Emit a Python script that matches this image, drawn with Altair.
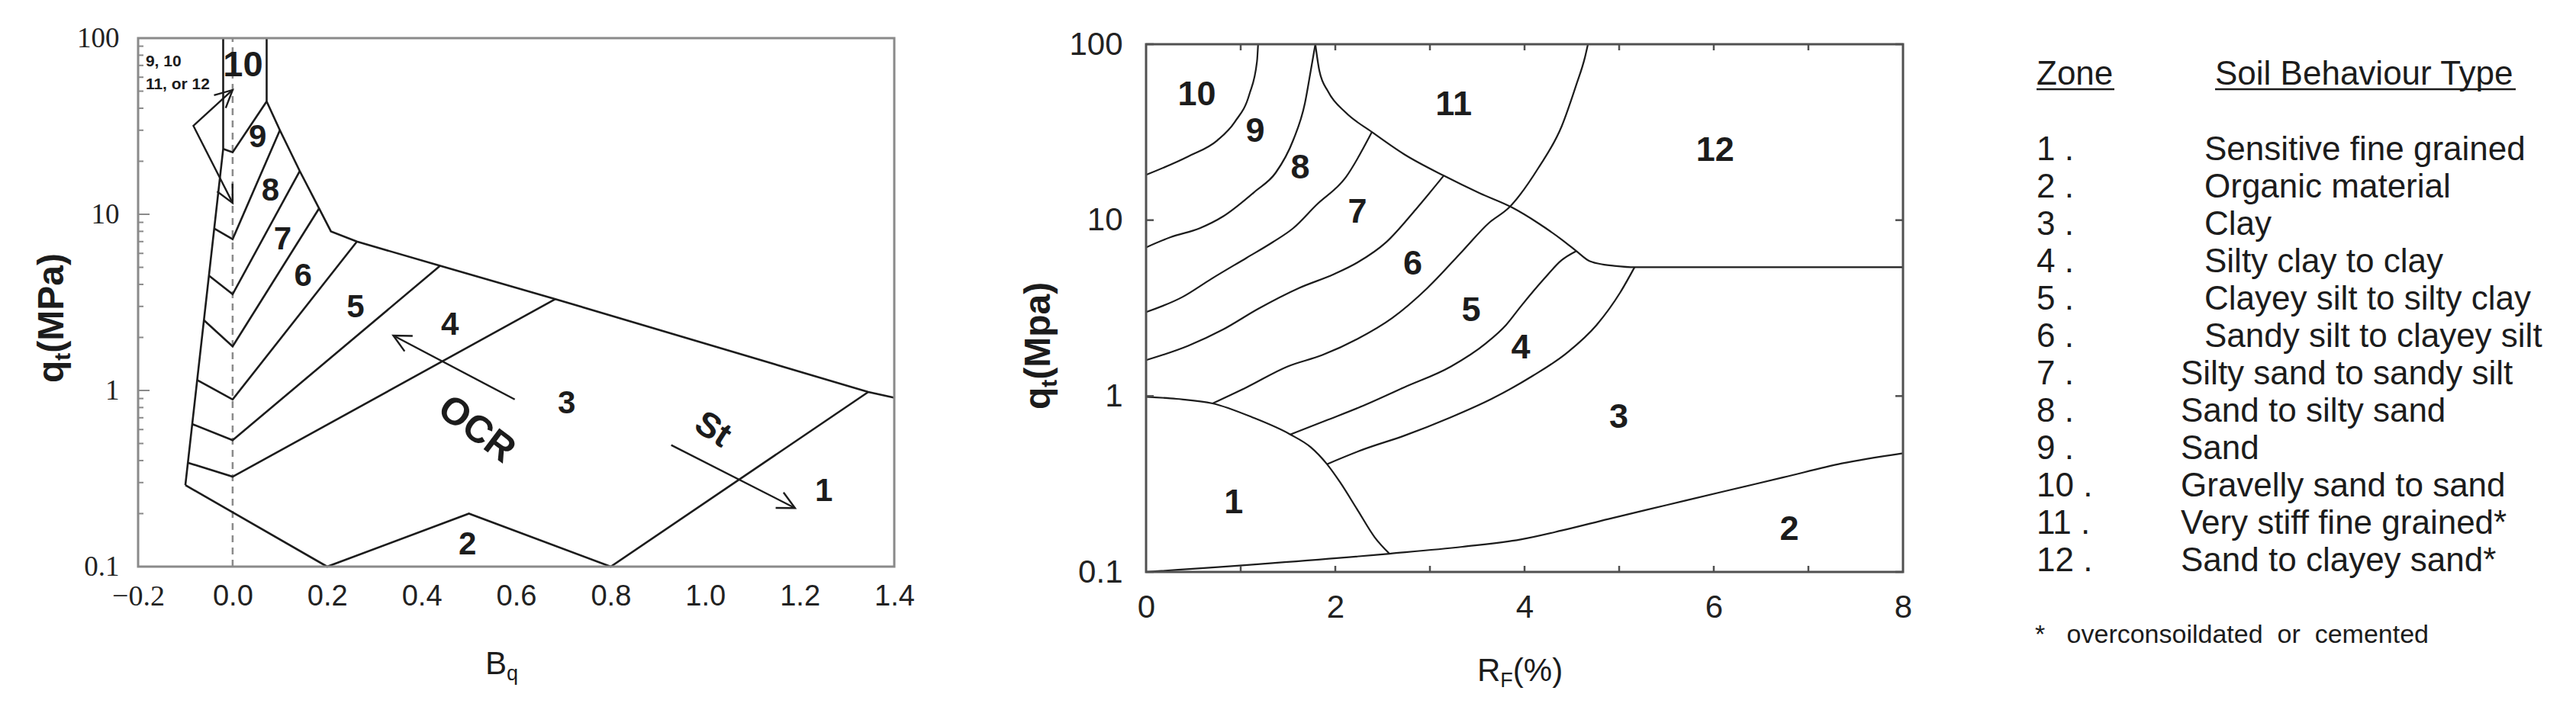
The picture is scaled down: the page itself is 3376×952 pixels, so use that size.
import math
import altair as alt
import pandas as pd

SANS = "Liberation Sans"
SERIF = "Liberation Serif"
INK = "#1c1c1c"
FRAME_L = "#8a8a8a"
FRAME_M = "#505050"

# ------------------------------------------------------------------
# Left chart: Bq (x) vs qt in MPa (y, log)
# ------------------------------------------------------------------
bq_tick_values = [-0.2, 0.0, 0.2, 0.4, 0.6, 0.8, 1.0, 1.2, 1.4]
qt_tick_values = [0.1, 1, 10, 100]
qt_minor_ticks = [0.2, 0.3, 0.4, 0.5, 0.6, 0.7, 0.8, 0.9,
                  2, 3, 4, 5, 6, 7, 8, 9,
                  20, 30, 40, 50, 60, 70, 80, 90]
qt_major_inner = [1, 10]

left_edge_bq = [-0.02, -0.02, -0.10]
left_edge_qt = [100, 23.5, 0.29]
outer_edge_bq = [0.072, 0.072, 0.100, 0.142, 0.183, 0.208, 0.263, 0.439, 0.683, 1.345, 1.400]
outer_edge_qt = [100, 43.7, 30.0, 17.6, 10.8, 8.0, 7.0, 5.1, 3.3, 0.98, 0.91]
bottom_edge_bq = [-0.10, 0.20, 0.50, 0.80, 1.345]
bottom_edge_qt = [0.29, 0.10, 0.20, 0.10, 0.98]
b10_9_bq = [-0.020, 0.0, 0.072]
b10_9_qt = [23.5, 22.5, 43.7]
b9_8_bq = [-0.039, 0.0, 0.100]
b9_8_qt = [8.31, 7.23, 30.0]
b8_7_bq = [-0.0505, 0.0, 0.142]
b8_7_qt = [4.49, 3.52, 17.6]
b7_6_bq = [-0.061, 0.0, 0.183]
b7_6_qt = [2.51, 1.78, 10.8]
b6_5_bq = [-0.075, 0.0, 0.263]
b6_5_qt = [1.146, 0.889, 7.0]
b5_4_bq = [-0.086, 0.0, 0.439]
b5_4_qt = [0.645, 0.522, 5.1]
b4_3_bq = [-0.095, 0.0, 0.683]
b4_3_qt = [0.389, 0.324, 3.3]

arrow_zone_bq = [0.0, -0.083, 0.0]
arrow_zone_qt = [50.8, 31.8, 11.6]
arrow_ocr_bq = [0.597, 0.340]
arrow_ocr_qt = [0.889, 2.05]
arrow_st_bq = [0.928, 1.190]
arrow_st_qt = [0.49, 0.215]

left_zone_text = ["10", "9", "8", "7", "6", "5", "4", "3", "2", "1"]
left_zone_bq = [0.022, 0.053, 0.080, 0.106, 0.149, 0.260, 0.460, 0.707, 0.497, 1.251]
left_zone_qt = [69.8, 27.4, 13.6, 7.2, 4.45, 2.96, 2.36, 0.84, 0.134, 0.267]

note_text = ["9, 10", "11, or 12"]
note_bq = [-0.184, -0.184]
note_qt = [73.5, 54.5]

ocr_text, ocr_bq, ocr_qt = "OCR", 0.516, 0.60
st_text, st_bq, st_qt = "St", 1.016, 0.60

# ------------------------------------------------------------------
# Middle chart: RF % (x) vs qt in MPa (y, log)
# ------------------------------------------------------------------
rf_tick_values = [0, 2, 4, 6, 8]
rf_inner_ticks = [1, 2, 3, 4, 5, 6, 7]

m10_9_rf = [0, 0.444, 0.753, 0.938, 1.092, 1.172, 1.184]
m10_9_qt = [18.1, 23, 28.4, 36.2, 52, 79.5, 100]
m9_8_rf = [0, 0.259, 0.568, 0.814, 1.154, 1.37, 1.555, 1.678, 1.74, 1.789]
m9_8_qt = [7.0, 8.0, 9.0, 10.5, 14.6, 18.6, 28.5, 46, 70.5, 100]
m8_7_rf = [0, 0.382, 0.691, 1.061, 1.339, 1.555, 1.80, 2.11, 2.387]
m8_7_qt = [3.0, 3.65, 4.64, 6.1, 7.5, 9.0, 12.2, 17.5, 31.7]
m7_6_rf = [0, 0.444, 0.814, 1.184, 1.616, 1.986, 2.233, 2.542, 2.85, 3.146]
m7_6_qt = [1.6, 1.93, 2.39, 3.13, 4.11, 4.93, 5.74, 7.53, 11.5, 17.9]
m6_5_rf = [0.703, 1.061, 1.493, 1.863, 2.233, 2.603, 2.973, 3.344, 3.62, 3.837,
           4.146, 4.392, 4.547, 4.639, 4.67]
m6_5_qt = [0.908, 1.12, 1.47, 1.71, 2.11, 2.78, 4.11, 6.67, 9.6, 11.8,
           19.8, 34.1, 58.8, 84.5, 100]
m5_4_rf = [1.524, 1.925, 2.295, 2.727, 3.22, 3.59, 3.806, 3.96, 4.207, 4.392, 4.547]
m5_4_qt = [0.605, 0.734, 0.881, 1.12, 1.47, 1.99, 2.54, 3.23, 4.64, 5.92, 6.67]
m4_3_rf = [1.912, 2.295, 2.727, 3.22, 3.652, 4.084, 4.454, 4.763, 5.01, 5.163]
m4_3_qt = [0.41, 0.497, 0.595, 0.757, 0.964, 1.30, 1.77, 2.54, 3.87, 5.4]
m11_rf = [1.789, 1.832, 1.925, 2.11, 2.387, 2.727, 3.146, 3.529, 3.868, 4.146,
          4.392, 4.547, 4.67, 4.793, 4.948, 5.163, 8.0]
m11_qt = [100, 70.5, 53.7, 40.9, 31.7, 23.7, 17.9, 14.2, 11.8, 9.6,
          7.76, 6.67, 5.92, 5.64, 5.5, 5.4, 5.4]
m1_rf = [0, 0.321, 0.703, 1.123, 1.524, 1.74, 1.912, 2.048, 2.233, 2.418, 2.572]
m1_qt = [0.99, 0.964, 0.908, 0.757, 0.605, 0.512, 0.41, 0.325, 0.226, 0.157, 0.127]
m2_rf = [0, 2.572, 3.344, 3.96, 4.392, 4.886, 5.503, 6.12, 6.737, 7.354, 8.0]
m2_qt = [0.1, 0.127, 0.139, 0.153, 0.172, 0.2, 0.24, 0.288, 0.345, 0.414, 0.473]

mid_zone_text = ["10", "9", "8", "7", "6", "5", "4", "3", "1", "2", "11", "12"]
mid_zone_rf = [0.537, 1.154, 1.629, 2.233, 2.819, 3.436, 3.96, 4.997, 0.925, 6.798, 3.251, 6.015]
mid_zone_qt = [52, 32, 19.8, 11.1, 5.64, 3.07, 1.88, 0.757, 0.248, 0.175, 45.6, 24.9]

# ------------------------------------------------------------------
# Legend table
# ------------------------------------------------------------------
legend_zone = ["1 .", "2 .", "3 .", "4 .", "5 .", "6 .", "7 .", "8 .", "9 .", "10 .", "11 .", "12 ."]
legend_type = ["Sensitive fine grained", "Organic material", "Clay", "Silty clay to clay",
               "Clayey silt to silty clay", "Sandy silt to clayey silt",
               "Silty sand to sandy silt", "Sand to silty sand", "Sand",
               "Gravelly sand to sand", "Very stiff fine grained*", "Sand to clayey sand*"]
legend_header = ["Zone", "Soil Behaviour Type"]
footnote = "*\u00a0\u00a0\u00a0overconsoildated\u00a0\u00a0or\u00a0\u00a0cemented"


def lines_df(named):
    rows = []
    for name, xs, ys in named:
        for i, (x, y) in enumerate(zip(xs, ys)):
            rows.append({"seg": name, "i": i, "x": x, "y": y})
    return pd.DataFrame(rows)


def head_angle(x0, y0, x1, y1, px_per_x, px_per_decade):
    dx = (x1 - x0) * px_per_x
    dy = -(math.log10(y1) - math.log10(y0)) * px_per_decade
    return math.degrees(math.atan2(dx, -dy)) % 360


ARROW = "M-0.55,1.1L0,0L0.55,1.1"
one = pd.DataFrame({"k": [0]})

# ================= LEFT CHART =================
LW, LH = 991, 693
l_xs = alt.Scale(domain=[-0.2, 1.4], nice=False, zero=False)
l_ys = alt.Scale(type="log", domain=[0.1, 100], nice=False)
l_xaxis = alt.Axis(values=bq_tick_values, format=".1f", title=None, grid=False, ticks=False,
                   domain=False,
                   labelFont={"condition": {"test": "datum.value < -0.1", "value": SERIF},
                              "value": SANS},
                   labelFontSize=38, labelColor="#222222", labelPadding=20,
                   labelFlush=False, labelOverlap=False)
l_yaxis = alt.Axis(values=qt_tick_values, format="~g", title=None, grid=False, ticks=False,
                   domain=False, labelFont=SERIF, labelFontSize=37, labelColor="#222222",
                   labelPadding=25, labelFlush=False, labelOverlap=False)


def LX(f="x"):
    return alt.X(f"{f}:Q", scale=l_xs, axis=l_xaxis)


def LY(f="y"):
    return alt.Y(f"{f}:Q", scale=l_ys, axis=l_yaxis)


left_lines = lines_df([
    ("left", left_edge_bq, left_edge_qt), ("outer", outer_edge_bq, outer_edge_qt),
    ("bottom", bottom_edge_bq, bottom_edge_qt), ("c0", b10_9_bq, b10_9_qt),
    ("c1", b9_8_bq, b9_8_qt), ("c2", b8_7_bq, b8_7_qt), ("c3", b7_6_bq, b7_6_qt),
    ("c4", b6_5_bq, b6_5_qt), ("c5", b5_4_bq, b5_4_qt), ("c6", b4_3_bq, b4_3_qt),
])
arrow_lines = lines_df([
    ("az", arrow_zone_bq, arrow_zone_qt), ("ocr", arrow_ocr_bq, arrow_ocr_qt),
    ("st", arrow_st_bq, arrow_st_qt),
])
lpx, lpd = LW / 1.6, LH / 3.0
heads = pd.DataFrame({
    "x": [arrow_zone_bq[0], arrow_zone_bq[2], arrow_ocr_bq[1], arrow_st_bq[1]],
    "y": [arrow_zone_qt[0], arrow_zone_qt[2], arrow_ocr_qt[1], arrow_st_qt[1]],
    "ang": [
        head_angle(arrow_zone_bq[1], arrow_zone_qt[1], arrow_zone_bq[0], arrow_zone_qt[0], lpx, lpd),
        head_angle(arrow_zone_bq[1], arrow_zone_qt[1], arrow_zone_bq[2], arrow_zone_qt[2], lpx, lpd),
        head_angle(arrow_ocr_bq[0], arrow_ocr_qt[0], arrow_ocr_bq[1], arrow_ocr_qt[1], lpx, lpd),
        head_angle(arrow_st_bq[0], arrow_st_qt[0], arrow_st_bq[1], arrow_st_qt[1], lpx, lpd),
    ],
})
left_labels = pd.DataFrame({"x": left_zone_bq, "y": left_zone_qt, "t": left_zone_text,
                            "fs": [47 if t == "10" else 42 for t in left_zone_text]})
notes = pd.DataFrame({"x": note_bq, "y": note_qt, "t": note_text})

l_frame = alt.Chart(pd.DataFrame({"x": [-0.2], "x2": [1.4], "y": [0.1], "y2": [100]})).mark_rect(
    filled=False, stroke=FRAME_L, strokeWidth=3).encode(x=LX(), x2="x2:Q", y=LY(), y2="y2:Q")
l_zero = alt.Chart(pd.DataFrame({"x": [0.0], "y": [0.1], "y2": [100]})).mark_rule(
    color=FRAME_L, strokeWidth=2.5, strokeDash=[9, 7]).encode(x=LX(), y=LY(), y2="y2:Q")
l_lines = alt.Chart(left_lines).mark_line(color=INK, strokeWidth=2.6).encode(
    x=LX(), y=LY(), detail="seg:N", order="i:Q")
l_arrows = alt.Chart(arrow_lines).mark_line(color=INK, strokeWidth=2.4).encode(
    x=LX(), y=LY(), detail="seg:N", order="i:Q")
l_heads = alt.Chart(heads).mark_point(shape=ARROW, filled=False, size=1700, strokeWidth=2.4,
                                      color=INK, opacity=1).encode(
    x=LX(), y=LY(), angle=alt.Angle("ang:Q", scale=None))
l_text = alt.Chart(left_labels).mark_text(font=SANS, fontWeight="bold", color=INK).encode(
    x=LX(), y=LY(), text="t:N", size=alt.Size("fs:Q", scale=None))
l_notes = alt.Chart(notes).mark_text(font=SANS, fontWeight="bold", fontSize=21, color=INK,
                                     align="left").encode(x=LX(), y=LY(), text="t:N")
l_ocr = alt.Chart(pd.DataFrame({"x": [ocr_bq], "y": [ocr_qt], "t": [ocr_text]})).mark_text(
    font=SANS, fontWeight="bold", fontSize=50, color=INK, angle=37).encode(x=LX(), y=LY(), text="t:N")
l_st = alt.Chart(pd.DataFrame({"x": [st_bq], "y": [st_qt], "t": [st_text]})).mark_text(
    font=SANS, fontWeight="bold", fontSize=46, color=INK, angle=33).encode(x=LX(), y=LY(), text="t:N")
l_minor = alt.Chart(pd.DataFrame({"y": qt_minor_ticks})).mark_rule(color=FRAME_L, strokeWidth=2).encode(
    y=LY(), x=alt.value(0), x2=alt.value(7))
l_major = alt.Chart(pd.DataFrame({"y": qt_major_inner})).mark_rule(color=FRAME_L, strokeWidth=2).encode(
    y=LY(), x=alt.value(0), x2=alt.value(15))


def txt(t, x, y, size, bold=False, angle=0, align="left", baseline="alphabetic", font=SANS):
    kw = dict(text=t, font=font, fontSize=size, color=INK, align=align, baseline=baseline)
    if bold:
        kw["fontWeight"] = "bold"
    if angle:
        kw["angle"] = angle
    return alt.Chart(one).mark_text(**kw).encode(x=alt.value(x), y=alt.value(y))


# y title of left chart: q_t(MPa), rotated, reading upward
lyt_x, lyt_y0 = -98, 452
l_ytitle = [
    txt("q", lyt_x, lyt_y0, 48, bold=True, angle=270),
    txt("t", lyt_x + 9, lyt_y0 - 0.611 * 48, 30, bold=True, angle=270),
    txt("(MPa)", lyt_x, lyt_y0 - 0.611 * 48 - 0.333 * 30, 48, bold=True, angle=270),
]
# x title of left chart: B_q
l_xtitle = [
    txt("B", 455, 834, 42),
    txt("q", 455 + 0.667 * 42, 842, 27),
]
l_anchor = alt.Chart(one).mark_rule(color="white", strokeWidth=1).encode(
    x=alt.value(-172), y=alt.value(-41), y2=alt.value(-40))

left_chart = alt.layer(
    l_zero, l_lines, l_arrows, l_heads, l_text, l_notes, l_ocr, l_st, l_minor, l_major,
    *l_ytitle, *l_xtitle, l_anchor, l_frame
).properties(width=LW, height=LH)

# ================= MIDDLE CHART =================
MW, MH = 992, 700
m_top, m_bot = 8, 700
m_xs = alt.Scale(domain=[0, 8], nice=False, zero=False)
m_ys = alt.Scale(type="log", domain=[0.1, 100], nice=False, range=[m_bot, m_top])
m_xaxis = alt.Axis(values=rf_tick_values, format="d", title=None, grid=False, ticks=False,
                   domain=False, labelFont=SANS, labelFontSize=42, labelColor="#222222",
                   labelPadding=26, labelFlush=False, labelOverlap=False)
m_yaxis = alt.Axis(values=qt_tick_values, format="~g", title=None, grid=False, ticks=False,
                   domain=False, labelFont=SANS, labelFontSize=42, labelColor="#222222",
                   labelPadding=31, labelFlush=False, labelOverlap=False)


def MX(f="x"):
    return alt.X(f"{f}:Q", scale=m_xs, axis=m_xaxis)


def MY(f="y"):
    return alt.Y(f"{f}:Q", scale=m_ys, axis=m_yaxis)


mid_lines = lines_df([
    ("a", m10_9_rf, m10_9_qt), ("b", m9_8_rf, m9_8_qt), ("c", m8_7_rf, m8_7_qt),
    ("d", m7_6_rf, m7_6_qt), ("e", m6_5_rf, m6_5_qt), ("f", m5_4_rf, m5_4_qt),
    ("g", m4_3_rf, m4_3_qt), ("h", m11_rf, m11_qt), ("i", m1_rf, m1_qt), ("j", m2_rf, m2_qt),
])
mid_labels = pd.DataFrame({"x": mid_zone_rf, "y": mid_zone_qt, "t": mid_zone_text})

m_frame = alt.Chart(pd.DataFrame({"x": [0], "x2": [8], "y": [0.1], "y2": [100]})).mark_rect(
    filled=False, stroke=FRAME_M, strokeWidth=3).encode(x=MX(), x2="x2:Q", y=MY(), y2="y2:Q")
m_lines = alt.Chart(mid_lines).mark_line(color=INK, strokeWidth=2.2, interpolate="monotone").encode(
    x=MX(), y=MY(), detail="seg:N", order="i:Q")
m_text = alt.Chart(mid_labels).mark_text(font=SANS, fontWeight="bold", fontSize=45, color=INK).encode(
    x=MX(), y=MY(), text="t:N")
ytk = pd.DataFrame({"y": qt_tick_values})
xtk = pd.DataFrame({"x": rf_inner_ticks})
m_ticks = [
    alt.Chart(ytk).mark_rule(color=FRAME_M, strokeWidth=2.5).encode(y=MY(), x=alt.value(0), x2=alt.value(10)),
    alt.Chart(ytk).mark_rule(color=FRAME_M, strokeWidth=2.5).encode(y=MY(), x=alt.value(MW - 10), x2=alt.value(MW)),
    alt.Chart(xtk).mark_rule(color=FRAME_M, strokeWidth=2.5).encode(x=MX(), y=alt.value(m_top), y2=alt.value(m_top + 8)),
    alt.Chart(xtk).mark_rule(color=FRAME_M, strokeWidth=2.5).encode(x=MX(), y=alt.value(m_bot - 8), y2=alt.value(m_bot)),
]
myt_x, myt_y0 = -126, 487
m_ytitle = [
    txt("q", myt_x, myt_y0, 48, bold=True, angle=270),
    txt("t", myt_x + 9, myt_y0 - 0.611 * 48, 30, bold=True, angle=270),
    txt("(Mpa)", myt_x, myt_y0 - 0.611 * 48 - 0.333 * 30, 48, bold=True, angle=270),
]
m_xtitle = [
    txt("R", 434, 843, 42),
    txt("F", 434 + 0.722 * 42, 851, 27),
    txt("(%)", 434 + 0.722 * 42 + 0.611 * 27, 843, 42),
]
middle_chart = alt.layer(
    m_lines, m_text, *m_ticks, *m_ytitle, *m_xtitle, m_frame
).properties(width=MW, height=MH)

# ================= LEGEND =================
legend_df = pd.DataFrame({"row": list(range(1, 13)), "zone": legend_zone, "type": legend_type})
row_y = alt.Y("row:Q", scale=alt.Scale(domain=[1, 12], range=[147, 686]), axis=None)
lg_base = alt.Chart(legend_df)
lg_num = lg_base.mark_text(font=SANS, fontSize=44, color=INK, align="left", baseline="middle").encode(
    x=alt.value(-155), y=row_y, text="zone:N")
lg_t1 = lg_base.transform_filter("datum.row <= 6").mark_text(
    font=SANS, fontSize=44, color=INK, align="left", baseline="middle").encode(
    x=alt.value(65), y=row_y, text="type:N")
lg_t2 = lg_base.transform_filter("datum.row > 6").mark_text(
    font=SANS, fontSize=44, color=INK, align="left", baseline="middle").encode(
    x=alt.value(34), y=row_y, text="type:N")
lg_h1 = txt(legend_header[0], -155, 48, 44, baseline="middle")
lg_h2 = txt(legend_header[1], 79, 48, 44, baseline="middle")
lg_u1 = alt.Chart(one).mark_rule(color=INK, strokeWidth=2.5).encode(
    x=alt.value(-155), x2=alt.value(-53), y=alt.value(67))
lg_u2 = alt.Chart(one).mark_rule(color=INK, strokeWidth=2.5).encode(
    x=alt.value(79), x2=alt.value(473), y=alt.value(67))
lg_foot = txt(footnote, -157, 783, 34, baseline="middle")
legend_chart = alt.layer(lg_num, lg_t1, lg_t2, lg_h1, lg_h2, lg_u1, lg_u2, lg_foot).properties(
    width=480, height=700)

chart = alt.hconcat(left_chart, middle_chart, legend_chart, spacing=330, bounds="flush").properties(
    padding=0, autosize=alt.AutoSizeParams(type="pad")
).configure_view(stroke=None)

chart.save("out.html", embed_options={"renderer": "svg", "actions": False})
